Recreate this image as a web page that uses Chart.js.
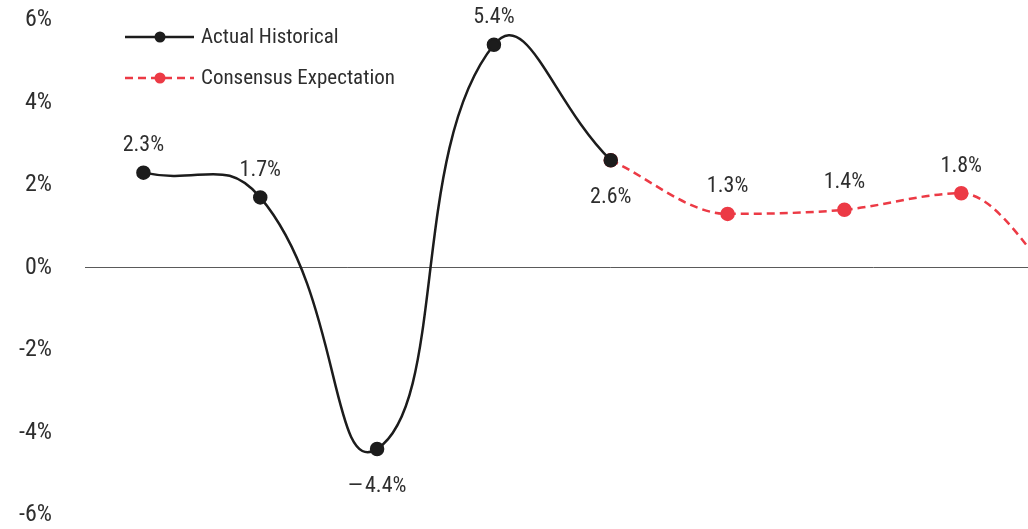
<!DOCTYPE html>
<html>
<head>
<meta charset="utf-8">
<script src="https://cdn.jsdelivr.net/npm/chart.js@4/dist/chart.umd.min.js"></script>
<style>
  html, body { margin: 0; padding: 0; overflow: hidden; background: #ffffff; }
  #wrap { width: 1145px; height: 529px; position: relative; }
</style>
</head>
<body>
<div id="wrap"><canvas id="growth"></canvas></div>
<script>
// Growth rates (%), actual history followed by the consensus path
const periods = ['2018', '2019', '2020', '2021', '2022', '2023', '2024', '2025', '2026'];
const actualHistorical = [2.3, 1.7, -4.4, 5.4, 2.6, null, null, null, null];
const consensusExpectation = [null, null, null, null, 2.6, 1.3, 1.4, 1.8, -1.0];
const yTickValues = [-6, -4, -2, 0, 2, 4, 6];
const seriesNames = ['Actual Historical', 'Consensus Expectation'];

const FONT = "'Roboto Condensed', 'Liberation Sans Narrow', 'DejaVu Sans Condensed', sans-serif";
const TEXT = '#2e2e2e';
const BLACK = '#1c1c1c';
const RED = '#ec3a45';

// where each value label sits relative to its point
const labelSide = ['above', 'above', 'below', 'above', 'below', 'above', 'above', 'above', 'above'];

function pct(v) {
  return (v < 0 ? '\u2014\u200A' + Math.abs(v).toFixed(1) : v.toFixed(1)) + '%';
}

const valueLabels = {
  id: 'valueLabels',
  afterDatasetsDraw(chart) {
    const ctx = chart.ctx;
    ctx.save();
    ctx.font = '22px ' + FONT;
    ctx.fillStyle = TEXT;
    ctx.textAlign = 'center';
    ctx.textBaseline = 'middle';
    chart.data.datasets.forEach((ds, di) => {
      const meta = chart.getDatasetMeta(di);
      ds.data.forEach((v, i) => {
        if (v === null) return;
        if (di === 1 && actualHistorical[i] !== null) return; // shared point labelled once
        const pt = meta.data[i];
        const dy = labelSide[i] === 'below' ? 37 : -27;
        ctx.fillText(pct(v), pt.x, pt.y + dy);
      });
    });
    ctx.restore();
  }
};

const insetLegend = {
  id: 'insetLegend',
  afterDraw(chart) {
    const ctx = chart.ctx;
    const rows = [37, 78];
    chart.data.datasets.forEach((ds, di) => {
      const y = rows[di];
      ctx.save();
      ctx.strokeStyle = ds.borderColor;
      ctx.lineWidth = ds.borderWidth;
      ctx.setLineDash(ds.borderDash || []);
      ctx.beginPath();
      ctx.moveTo(125, y);
      ctx.lineTo(194, y);
      ctx.stroke();
      ctx.setLineDash([]);
      ctx.fillStyle = ds.pointBackgroundColor;
      ctx.beginPath();
      ctx.arc(160, y, 5.5, 0, Math.PI * 2);
      ctx.fill();
      ctx.font = '21px ' + FONT;
      ctx.fillStyle = TEXT;
      ctx.textAlign = 'left';
      ctx.textBaseline = 'middle';
      ctx.fillText(ds.label, 201, y + 1);
      ctx.restore();
    });
  }
};

new Chart(document.getElementById('growth'), {
  type: 'line',
  data: {
    labels: periods,
    datasets: [
      {
        label: seriesNames[0],
        data: actualHistorical,
        borderColor: BLACK,
        backgroundColor: BLACK,
        pointBackgroundColor: BLACK,
        pointBorderColor: BLACK,
        borderWidth: 2.5,
        pointRadius: 6,
        tension: 0.5,
        order: 1
      },
      {
        label: seriesNames[1],
        data: consensusExpectation,
        borderColor: RED,
        backgroundColor: RED,
        pointBackgroundColor: RED,
        pointBorderColor: RED,
        borderWidth: 2.5,
        borderDash: [8, 5],
        pointRadius: 6,
        cubicInterpolationMode: 'monotone',
        order: 2
      }
    ]
  },
  options: {
    responsive: true,
    maintainAspectRatio: false,
    animation: false,
    layout: { padding: { top: 20, bottom: 14, left: 0, right: 0 } },
    elements: { line: { capBezierPoints: false } },
    plugins: { legend: { display: false }, tooltip: { enabled: false } },
    scales: {
      x: {
        type: 'category',
        offset: true,
        display: false
      },
      y: {
        min: yTickValues[0],
        max: yTickValues[yTickValues.length - 1],
        afterBuildTicks(scale) {
          scale.ticks = yTickValues.map(v => ({ value: v }));
        },
        afterFit(scale) {
          scale.width = 85;
          scale.paddingTop = 0;
          scale.paddingBottom = 0;
        },
        border: { display: false },
        grid: {
          drawTicks: false,
          lineWidth: 1,
          color: c => (c.tick && c.tick.value === 0 ? '#5a5a5a' : 'rgba(0,0,0,0)')
        },
        ticks: {
          padding: 33,
          color: TEXT,
          font: { family: FONT, size: 24 },
          callback: v => v + '%'
        }
      }
    }
  },
  plugins: [valueLabels, insetLegend]
});
</script>
</body>
</html>
